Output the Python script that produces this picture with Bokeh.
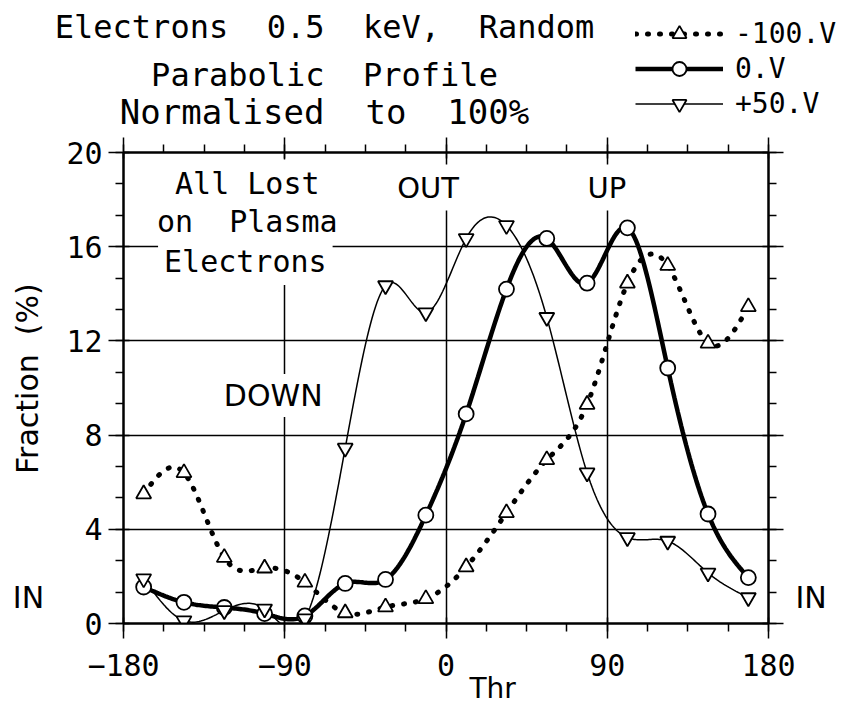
import numpy as np
from bokeh.plotting import figure
from bokeh.models import (FixedTicker, LinearAxis, Range1d, Label, Legend, LegendItem, Title)
from bokeh.layouts import column, row
from bokeh.embed import file_html
from bokeh.resources import INLINE

# ---------------- data ----------------
angles = [-168.75, -146.25, -123.75, -101.25, -78.75, -56.25, -33.75, -11.25,
          11.25, 33.75, 56.25, 78.75, 101.25, 123.75, 146.25, 168.75]
v_m100 = [5.5, 6.4, 2.8, 2.35, 1.75, 0.45, 0.7, 1.05,
          2.4, 4.7, 6.95, 9.3, 14.45, 15.2, 11.9, 13.45]
v_0 = [1.55, 0.9, 0.68, 0.42, 0.32, 1.7, 1.87, 4.6,
       8.9, 14.2, 16.35, 14.45, 16.8, 10.85, 4.65, 1.95]
v_p50 = [1.9, 0.12, 0.55, 0.62, 0.2, 7.45, 14.35, 13.2,
         16.35, 16.9, 13.0, 6.4, 3.65, 3.5, 2.15, 1.1]
series_labels = ["-100.V", "0.V", "+50.V"]
x_ticks = [-180, -90, 0, 90, 180]
y_ticks = [0, 4, 8, 12, 16, 20]
x_grid = [-90, 0, 90]
y_grid = [4, 8, 12, 16]
NB = "\u00a0 "  # a wide (double) word gap that SVG does not collapse
title_lines = ["Electrons" + NB + "0.5" + NB + "keV," + NB + "Random",
               "Parabolic" + NB + "Profile",
               "Normalised" + NB + "to" + NB + "100%"]

MONO = "DejaVu Sans Mono"
SANS = "DejaVu Sans"


def smooth(x, y, n=24):
    """natural cubic spline path through the data points (for drawing the curve)"""
    x = np.asarray(x, float)
    y = np.asarray(y, float)
    m = len(x)
    h = np.diff(x)
    A = np.zeros((m, m))
    b = np.zeros(m)
    A[0, 0] = 1
    A[-1, -1] = 1
    for i in range(1, m - 1):
        A[i, i - 1] = h[i - 1]
        A[i, i] = 2 * (h[i - 1] + h[i])
        A[i, i + 1] = h[i]
        b[i] = 3 * ((y[i + 1] - y[i]) / h[i] - (y[i] - y[i - 1]) / h[i - 1])
    c = np.linalg.solve(A, b)
    xs, ys = [], []
    for i in range(m - 1):
        bi = (y[i + 1] - y[i]) / h[i] - h[i] * (2 * c[i] + c[i + 1]) / 3
        di = (c[i + 1] - c[i]) / (3 * h[i])
        t = np.linspace(0, h[i], n, endpoint=(i == m - 2))
        xs.append(x[i] + t)
        ys.append(y[i] + bi * t + c[i] * t ** 2 + di * t ** 3)
    return np.concatenate(xs), np.concatenate(ys)


STYLES = [
    dict(line=dict(line_color="black", line_width=5, line_dash="1 11", line_cap="round"),
         marker="triangle"),
    dict(line=dict(line_color="black", line_width=4.5), marker="circle"),
    dict(line=dict(line_color="black", line_width=1.5), marker="inverted_triangle"),
]
MK = dict(size=15, fill_color="white", line_color="black", line_width=1.8)

HEAD_H = 133
MAIN_TOP = 19
MAIN_BOTTOM = 84


def blank_fig(w, h, **kw):
    f = figure(width=w, height=h, output_backend="svg", toolbar_location=None,
               x_axis_type=None, y_axis_type=None, **kw)
    f.outline_line_color = None
    f.grid.visible = False
    f.background_fill_color = "white"
    f.border_fill_color = "white"
    return f


# ---------------- header (title + legend) ----------------
head = blank_fig(849, HEAD_H, x_range=Range1d(0, 849), y_range=Range1d(HEAD_H, 0),
                 min_border=0, min_border_left=0, min_border_right=0,
                 min_border_top=0, min_border_bottom=0)
for txt, yy, fs in zip(title_lines, [26, 74, 111], ["32px", "32px", "34px"]):
    head.add_layout(Label(x=324, y=yy, text=txt, text_font=MONO, text_font_size=fs,
                          text_align="center", text_baseline="middle", text_color="black"))
items = []
for lab_txt, st in zip(series_labels, STYLES):
    # legend proxies (placed outside the visible header range)
    lr = head.line([-60, -40], [-60, -60], **st["line"])
    sr = head.scatter([-50], [-60], marker=st["marker"], **MK)
    items.append(LegendItem(label=lab_txt, renderers=[lr, sr]))
legend = Legend(items=items, location=(635, HEAD_H - 121))
legend.glyph_width = 88
legend.glyph_height = 35
legend.label_height = 35
legend.label_standoff = 12
legend.spacing = 0
legend.padding = 0
legend.margin = 0
legend.border_line_color = None
legend.background_fill_alpha = 0
legend.label_text_font = MONO
legend.label_text_font_size = "28px"
legend.label_text_color = "black"
head.add_layout(legend)

# ---------------- main plot ----------------
p = figure(width=799, height=707 - HEAD_H, output_backend="svg", toolbar_location=None,
           x_range=Range1d(-180, 180), y_range=Range1d(0, 20),
           min_border_left=73, min_border_right=81, min_border_top=MAIN_TOP,
           min_border_bottom=MAIN_BOTTOM)
p.background_fill_color = "white"
p.border_fill_color = "white"
p.outline_line_color = "black"
p.outline_line_width = 2

# ---------------- left strip (axis title + IN), frame aligned with main ----------------
left = blank_fig(50, 707 - HEAD_H, x_range=Range1d(0, 50), y_range=p.y_range,
                 min_border_left=0, min_border_right=0,
                 min_border_top=MAIN_TOP, min_border_bottom=MAIN_BOTTOM)
left.add_layout(Label(x=27, y=10.4, text="Fraction" + NB + "(%)", text_font=SANS,
                      text_font_size="30px", text_align="center", text_baseline="middle",
                      angle=np.pi / 2, text_color="black"))
left.add_layout(Label(x=28, y=1.1, text="IN", text_font=SANS, text_font_size="30px",
                      text_align="center", text_baseline="middle", text_color="black"))

x_minor = list(np.arange(-180, 180.1, 22.5))
y_minor = list(np.arange(0, 20.01, 4 / 3))
xt = FixedTicker(ticks=x_ticks, minor_ticks=x_minor)
yt = FixedTicker(ticks=y_ticks, minor_ticks=y_minor)


def style_axis(ax):
    ax.axis_line_width = 2
    ax.axis_line_color = "black"
    ax.major_tick_line_width = 1.5
    ax.minor_tick_line_width = 1.5
    ax.major_tick_out = 15
    ax.major_tick_in = 6
    ax.minor_tick_out = 8
    ax.minor_tick_in = 0
    ax.major_label_text_font = MONO
    ax.major_label_text_font_size = "30px"
    ax.major_label_text_color = "black"


xa = p.xaxis[0]
ya = p.yaxis[0]
xa.ticker = xt
ya.ticker = yt
xa_top = LinearAxis(ticker=xt, major_label_overrides={t: "" for t in x_ticks})
ya_right = LinearAxis(ticker=yt, major_label_overrides={t: "" for t in y_ticks})
p.add_layout(xa_top, "above")
p.add_layout(ya_right, "right")
for ax in (xa, ya, xa_top, ya_right):
    style_axis(ax)
xa_top.major_label_standoff = 0
ya_right.major_label_standoff = 0
xa.major_label_standoff = 15
ya.major_label_standoff = 6

# right-hand "IN" marker label as an extra axis without lines
in_y = 1.1
ya_in = LinearAxis(ticker=FixedTicker(ticks=[in_y], minor_ticks=[]),
                   major_label_overrides={in_y: "IN"})
ya_in.axis_line_color = None
ya_in.major_tick_line_color = None
ya_in.minor_tick_line_color = None
ya_in.major_tick_out = 0
ya_in.major_tick_in = 0
ya_in.minor_tick_out = 0
ya_in.major_label_standoff = 12
ya_in.major_label_text_font = SANS
ya_in.major_label_text_font_size = "30px"
ya_in.major_label_text_color = "black"
p.add_layout(ya_in, "right")

# x axis name, shifted right of centre as in the original
p.add_layout(Title(text="Thr", align="left", offset=346, text_font=SANS,
                   text_font_size="28px", text_font_style="normal", text_color="black",
                   vertical_align="top", standoff=-14), "below")

p.xgrid.ticker = FixedTicker(ticks=x_grid)
p.ygrid.ticker = FixedTicker(ticks=y_grid)
for g in (p.xgrid, p.ygrid):
    g.grid_line_color = "black"
    g.grid_line_width = 1.5
    g.grid_line_alpha = 1

# ---------------- curves ----------------
series = [v_m100, v_0, v_p50]
for vals, st in zip(series, STYLES):
    sx, sy = smooth(angles, vals)
    p.line(sx, sy, **st["line"])
for vals, st in zip(series, STYLES):
    p.scatter(angles, vals, marker=st["marker"], **MK)


# ---------------- in-plot texts ----------------
def lab(x, y, text, font, size, pad=6):
    p.add_layout(Label(x=x, y=y, text=text, text_font=font, text_font_size=size,
                       text_align="center", text_baseline="middle", text_color="black",
                       background_fill_color="white", padding=pad))


lab(-110.9, 18.7, "All\u00a0Lost", MONO, "30px")
lab(-110.9, 17.07, "on" + NB + "Plasma", MONO, "30px")
lab(-112.0, 15.37, "Electrons", MONO, "30px")
lab(-96.4, 9.68, "DOWN", SANS, "30px", pad=4)
lab(-10.0, 18.51, "OUT", SANS, "29px")
lab(89.8, 18.51, "UP", SANS, "29px")

layout = column(head, row(left, p))
open("out.html", "w").write(file_html(layout, INLINE))
